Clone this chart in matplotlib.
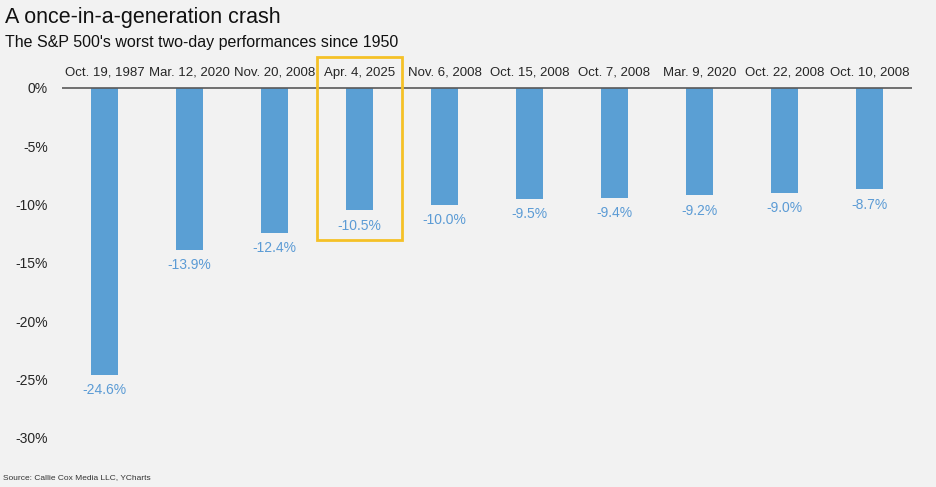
import matplotlib.pyplot as plt
from matplotlib.patches import Rectangle

dates = ["Oct. 19, 1987", "Mar. 12, 2020", "Nov. 20, 2008", "Apr. 4, 2025",
         "Nov. 6, 2008", "Oct. 15, 2008", "Oct. 7, 2008", "Mar. 9, 2020",
         "Oct. 22, 2008", "Oct. 10, 2008"]
returns = [-24.6, -13.9, -12.4, -10.5, -10.0, -9.5, -9.4, -9.2, -9.0, -8.7]
yticks = [0, -5, -10, -15, -20, -25, -30]
highlight = "Apr. 4, 2025"

bg = "#f2f2f2"
bar_color = "#5a9fd4"
label_color = "#5b9bd5"
box_color = "#f5c127"

plt.rcParams["font.family"] = ["Liberation Sans", "DejaVu Sans"]

fig = plt.figure(figsize=(9.36, 4.87), dpi=100, facecolor=bg)
ax = fig.add_axes([62 / 936, 0.0959, 850 / 936, 0.7953])
ax.set_facecolor(bg)

x = range(len(dates))
ax.bar(x, returns, width=0.31, color=bar_color, zorder=2)
ax.axhline(0, color="#595959", lw=1.2, zorder=3)

for i, (d, v) in enumerate(zip(dates, returns)):
    ax.annotate(d, (i, 0), xytext=(0, 6.5), textcoords="offset points",
                ha="center", va="bottom", fontsize=9.5, color="#262626")
    ax.annotate(f"{v:.1f}%", (i, v), xytext=(0, -6), textcoords="offset points",
                ha="center", va="top", fontsize=10, color=label_color)

# box around the latest crash
hi = dates.index(highlight)
ax.add_patch(Rectangle((hi - 0.5, -13.0), 1.0, 15.65, fill=False,
                       edgecolor=box_color, lw=2, clip_on=False, zorder=4))

ax.set_xlim(-0.5, len(dates) - 0.5)
ax.set_ylim(-30.2, 3)
ax.set_yticks(yticks)
ax.set_yticklabels([f"{t}%" for t in yticks], fontsize=10, color="#262626")
ax.tick_params(axis="y", length=0, pad=10)
ax.set_xticks([])
for s in ax.spines.values():
    s.set_visible(False)

fig.text(5 / 936, 1 - 18 / 487, "A once-in-a-generation crash",
         fontsize=15.5, va="center", color="#111111")
fig.text(5 / 936, 1 - 42 / 487, "The S&P 500's worst two-day performances since 1950",
         fontsize=11.5, va="center", color="#111111")
fig.text(3 / 936, 1 - 478 / 487, "Source: Callie Cox Media LLC, YCharts",
         fontsize=6, va="center", color="#333333")

fig.savefig("out.png", dpi=100, facecolor=bg)
